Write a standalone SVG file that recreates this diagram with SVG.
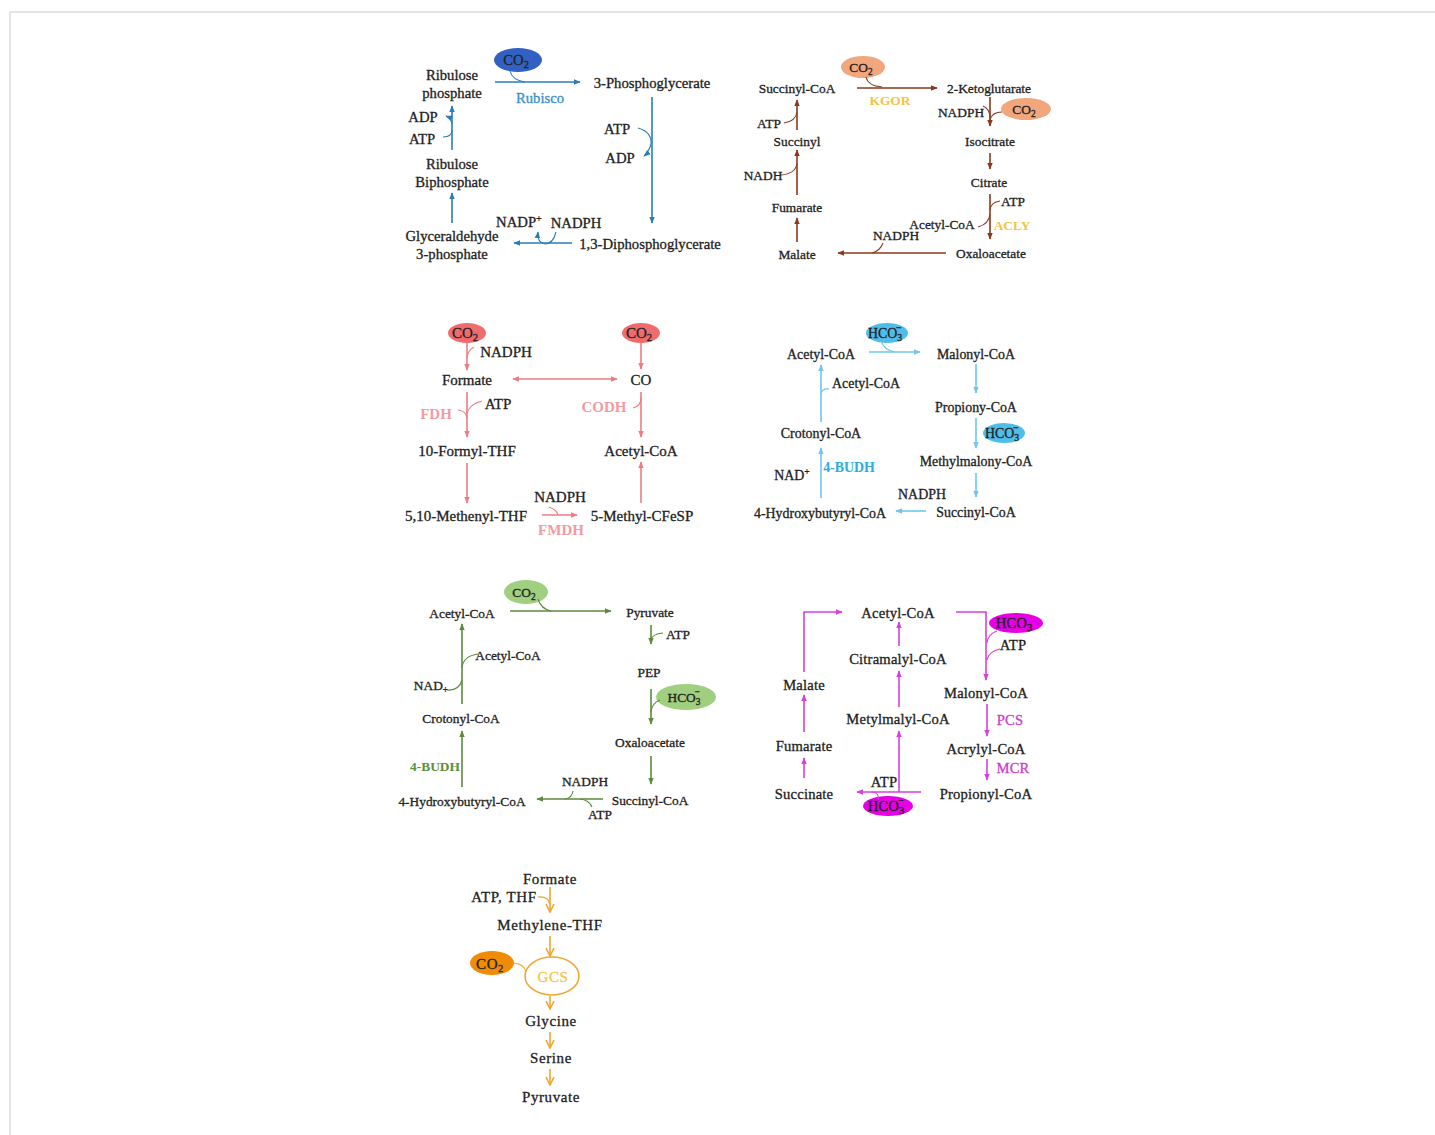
<svg xmlns="http://www.w3.org/2000/svg" width="1435" height="1135" viewBox="0 0 1435 1135">
<defs>
<style>
text{font-family:"Liberation Serif","Times New Roman",serif;fill:#222;stroke:#222;stroke-width:0.3;text-anchor:middle}
.p1{font-size:14.7px}.p2{font-size:13.4px}.p3{font-size:15px}.p4{font-size:13.9px}.p5{font-size:13.4px}.p6{font-size:14.6px;letter-spacing:0.2px}.p7{font-size:15px;letter-spacing:0.6px}
.sub{font-size:0.7em}
.ln{fill:none;stroke-width:1.6}
.thin{fill:none;stroke-width:1.1}
.blue{stroke:#2c7cb8}.brown{stroke:#8a3a1c}.red{stroke:#ec7c84}.cyan{stroke:#6ec6ec}.green{stroke:#5d8a3d}.mag{stroke:#d83fe0}.orange{stroke:#f0a52c}
.enz{font-weight:bold}
</style>
<marker id="mb" viewBox="0 0 10 10" refX="9" refY="5" markerWidth="7" markerHeight="7" markerUnits="userSpaceOnUse" orient="auto-start-reverse"><path d="M0,1L10,5L0,9z" fill="#2c7cb8"/></marker>
<marker id="mbr" viewBox="0 0 10 10" refX="9" refY="5" markerWidth="7" markerHeight="7" markerUnits="userSpaceOnUse" orient="auto-start-reverse"><path d="M0,1L10,5L0,9z" fill="#8a3a1c"/></marker>
<marker id="mr" viewBox="0 0 10 10" refX="9" refY="5" markerWidth="7" markerHeight="7" markerUnits="userSpaceOnUse" orient="auto-start-reverse"><path d="M0,1L10,5L0,9z" fill="#ec7c84"/></marker>
<marker id="mc" viewBox="0 0 10 10" refX="9" refY="5" markerWidth="7" markerHeight="7" markerUnits="userSpaceOnUse" orient="auto-start-reverse"><path d="M0,1L10,5L0,9z" fill="#6ec6ec"/></marker>
<marker id="mg" viewBox="0 0 10 10" refX="9" refY="5" markerWidth="7" markerHeight="7" markerUnits="userSpaceOnUse" orient="auto-start-reverse"><path d="M0,1L10,5L0,9z" fill="#5d8a3d"/></marker>
<marker id="mm" viewBox="0 0 10 10" refX="9" refY="5" markerWidth="7" markerHeight="7" markerUnits="userSpaceOnUse" orient="auto-start-reverse"><path d="M0,1L10,5L0,9z" fill="#d83fe0"/></marker>
<marker id="mo" viewBox="0 0 10 10" refX="9" refY="5" markerWidth="10" markerHeight="10" markerUnits="userSpaceOnUse" orient="auto"><path d="M1,1L9,5L1,9" fill="none" stroke="#f0a52c" stroke-width="1.6"/></marker>
</defs>
<rect width="1435" height="1135" fill="#fff"/>
<path d="M10,1135V12H1435" fill="none" stroke="#dcdcdc" stroke-width="1.5"/>

<!-- Panel 1: Calvin cycle -->
<g id="calvin">
<g id="n-co2-1"><ellipse cx="518" cy="60" rx="24" ry="12" fill="#3261c4"/><text class="p1" x="516" y="65">CO<tspan class="sub" dy="3">2</tspan></text></g>
<g id="n-rup"><text class="p1" x="452" y="79.5">Ribulose</text><text class="p1" x="452" y="97.5">phosphate</text></g>
<g id="n-3pg"><text class="p1" x="652" y="88">3-Phosphoglycerate</text></g>
<g id="n-rubisco"><text class="p1" x="540" y="102.5" style="fill:#3b8fc9;stroke:#3b8fc9">Rubisco</text></g>
<g id="n-atp1"><text class="p1" x="617" y="134">ATP</text></g>
<g id="n-adp1"><text class="p1" x="620" y="162.5">ADP</text></g>
<g id="n-13dpg"><text class="p1" x="650" y="249">1,3-Diphosphoglycerate</text></g>
<g id="n-nadp"><text class="p1" x="519" y="226.5">NADP<tspan class="sub" dy="-5">+</tspan></text></g>
<g id="n-nadph1"><text class="p1" x="576" y="227.5">NADPH</text></g>
<g id="n-g3p"><text class="p1" x="452" y="241">Glyceraldehyde</text><text class="p1" x="452" y="258.5">3-phosphate</text></g>
<g id="n-rubp"><text class="p1" x="452" y="168.5">Ribulose</text><text class="p1" x="452" y="186.5">Biphosphate</text></g>
<g id="n-adp2"><text class="p1" x="423" y="121.5">ADP</text></g>
<g id="n-atp2"><text class="p1" x="422" y="143.5">ATP</text></g>
</g>
<g id="connectors-calvin">
<path class="ln blue" d="M495,82H580" marker-end="url(#mb)"/>
<path class="thin blue" d="M510,71Q512,80 525,82"/>
<path class="ln blue" d="M652,97V223" marker-end="url(#mb)"/>
<path class="thin blue" d="M638,128Q652,132 651,144Q649,152 644,156" marker-end="url(#mb)"/>
<path class="ln blue" d="M572,243H514" marker-end="url(#mb)"/>
<path class="thin blue" d="M556,232Q553,244 545,244Q537,243 538,232" marker-end="url(#mb)"/>
<path class="ln blue" d="M452,223V193" marker-end="url(#mb)"/>
<path class="ln blue" d="M452,150V106" marker-end="url(#mb)"/>
<path class="thin blue" d="M443,137Q452,137 452,130"/>
<path class="thin blue" d="M452,124Q451,118 446,116" marker-end="url(#mb)"/>
</g>

<!-- Panel 2: rTCA -->
<g id="rtca">
<g id="n-co2-2a"><ellipse cx="863" cy="67" rx="22" ry="11" fill="#f2a67c"/><text class="p2" x="861" y="71.5">CO<tspan class="sub" dy="3">2</tspan></text></g>
<g id="n-co2-2b"><ellipse cx="1026" cy="109" rx="25" ry="11" fill="#f2a67c"/><text class="p2" x="1024" y="113.5">CO<tspan class="sub" dy="3">2</tspan></text></g>
<g id="n-succoa2"><text class="p2" x="797" y="92.5">Succinyl-CoA</text></g>
<g id="n-kgor"><text class="p2 enz" x="890" y="104.5" style="fill:#f3c341;stroke:none">KGOR</text></g>
<g id="n-2kg"><text class="p2" x="989" y="92.5">2-Ketoglutarate</text></g>
<g id="n-nadph2a"><text class="p2" x="961" y="116.5">NADPH</text></g>
<g id="n-isocit"><text class="p2" x="990" y="145.5">Isocitrate</text></g>
<g id="n-citrate"><text class="p2" x="989" y="186.5">Citrate</text></g>
<g id="n-atp2a"><text class="p2" x="1013" y="205.5">ATP</text></g>
<g id="n-acoa2"><text class="p2" x="942" y="228.5">Acetyl-CoA</text></g>
<g id="n-acly"><text class="p2 enz" x="1012" y="229.5" style="fill:#f3c341;stroke:none">ACLY</text></g>
<g id="n-oaa2"><text class="p2" x="991" y="257.5">Oxaloacetate</text></g>
<g id="n-nadph2b"><text class="p2" x="896" y="239.5">NADPH</text></g>
<g id="n-malate2"><text class="p2" x="797" y="258.5">Malate</text></g>
<g id="n-fum2"><text class="p2" x="797" y="211.5">Fumarate</text></g>
<g id="n-nadh2"><text class="p2" x="763" y="179.5">NADH</text></g>
<g id="n-succ2"><text class="p2" x="797" y="145.5">Succinyl</text></g>
<g id="n-atp2b"><text class="p2" x="769" y="127.5">ATP</text></g>
</g>
<g id="connectors-rtca">
<path class="ln brown" d="M857,88H937" marker-end="url(#mbr)"/>
<path class="thin brown" d="M866,77Q868,86 882,87"/>
<path class="ln brown" d="M990,97V126" marker-end="url(#mbr)"/>
<path class="thin brown" d="M983,106Q990,109 990,118"/>
<path class="thin brown" d="M1002,112Q992,112 990,120"/>
<path class="ln brown" d="M990,153V169" marker-end="url(#mbr)"/>
<path class="ln brown" d="M990,194V239" marker-end="url(#mbr)"/>
<path class="thin brown" d="M1000,201Q991,202 990,210"/>
<path class="thin brown" d="M990,214Q989,224 978,227"/>
<path class="ln brown" d="M946,253H838" marker-end="url(#mbr)"/>
<path class="thin brown" d="M883,243Q880,251 872,253"/>
<path class="ln brown" d="M797,242V218" marker-end="url(#mbr)"/>
<path class="ln brown" d="M797,195V150" marker-end="url(#mbr)"/>
<path class="thin brown" d="M781,175Q795,174 797,164"/>
<path class="ln brown" d="M797,130V100" marker-end="url(#mbr)"/>
<path class="thin brown" d="M784,123Q796,121 797,112"/>
</g>

<!-- Panel 3: Wood-Ljungdahl -->
<g id="wl">
<g id="n-co2-3a"><ellipse cx="467" cy="333" rx="19" ry="10" fill="#f06b6d"/><text class="p3" x="465" y="338">CO<tspan class="sub" dy="3">2</tspan></text></g>
<g id="n-co2-3b"><ellipse cx="641" cy="333" rx="19" ry="10" fill="#f06b6d"/><text class="p3" x="639" y="338">CO<tspan class="sub" dy="3">2</tspan></text></g>
<g id="n-nadph3a"><text class="p3" x="506" y="357">NADPH</text></g>
<g id="n-formate3"><text class="p3" x="467" y="385">Formate</text></g>
<g id="n-co3"><text class="p3" x="641" y="385">CO</text></g>
<g id="n-atp3"><text class="p3" x="498" y="409">ATP</text></g>
<g id="n-fdh"><text class="p3 enz" x="436" y="419" style="fill:#f29aa2;stroke:none">FDH</text></g>
<g id="n-codh"><text class="p3 enz" x="604" y="412" style="fill:#f29aa2;stroke:none">CODH</text></g>
<g id="n-10fthf"><text class="p3" x="467" y="456">10-Formyl-THF</text></g>
<g id="n-acoa3"><text class="p3" x="641" y="456">Acetyl-CoA</text></g>
<g id="n-methenyl"><text class="p3" x="466" y="521">5,10-Methenyl-THF</text></g>
<g id="n-nadph3b"><text class="p3" x="560" y="502">NADPH</text></g>
<g id="n-fmdh"><text class="p3 enz" x="561" y="535" style="fill:#f29aa2;stroke:none">FMDH</text></g>
<g id="n-cfesp"><text class="p3" x="642" y="521">5-Methyl-CFeSP</text></g>
</g>
<g id="connectors-wl">
<path class="ln red" d="M467,343V370" marker-end="url(#mr)"/>
<path class="thin red" d="M474,347Q468,350 467,358"/>
<path class="ln red" d="M641,343V369" marker-end="url(#mr)"/>
<path class="ln red" d="M513,379H617" marker-start="url(#mr)" marker-end="url(#mr)"/>
<path class="ln red" d="M467,392V437" marker-end="url(#mr)"/>
<path class="thin red" d="M482,401Q469,404 467,414"/>
<path class="thin red" d="M458,410Q466,411 467,418"/>
<path class="ln red" d="M467,463V503" marker-end="url(#mr)"/>
<path class="ln red" d="M542,515H577" marker-end="url(#mr)"/>
<path class="thin red" d="M549,507Q557,510 558,515"/>
<path class="ln red" d="M641,503V462" marker-end="url(#mr)"/>
<path class="ln red" d="M641,392V437" marker-end="url(#mr)"/>
<path class="thin red" d="M633,408Q641,406 641,398"/>
</g>

<!-- Panel 4: 3HP/4HB -->
<g id="hp4hb">
<g id="n-hco3-4a"><ellipse cx="887" cy="333" rx="21" ry="10" fill="#4fbdea"/><text class="p4" x="885" y="338">HCO<tspan class="sub" dy="3">3</tspan><tspan class="sub" dx="-6" dy="-10">−</tspan></text></g>
<g id="n-hco3-4b"><ellipse cx="1004" cy="433" rx="21" ry="10" fill="#4fbdea"/><text class="p4" x="1002" y="438">HCO<tspan class="sub" dy="3">3</tspan><tspan class="sub" dx="-6" dy="-10">−</tspan></text></g>
<g id="n-acoa4a"><text class="p4" x="821" y="358.5">Acetyl-CoA</text></g>
<g id="n-malcoa4"><text class="p4" x="976" y="358.5">Malonyl-CoA</text></g>
<g id="n-propcoa4"><text class="p4" x="976" y="411.5">Propiony-CoA</text></g>
<g id="n-mmcoa4"><text class="p4" x="976" y="465.5">Methylmalony-CoA</text></g>
<g id="n-nadph4"><text class="p4" x="922" y="498.5">NADPH</text></g>
<g id="n-succoa4"><text class="p4" x="976" y="516.5">Succinyl-CoA</text></g>
<g id="n-4hb4"><text class="p4" x="820" y="517.5">4-Hydroxybutyryl-CoA</text></g>
<g id="n-nad4"><text class="p4" x="792" y="479.5">NAD<tspan class="sub" dy="-5">+</tspan></text></g>
<g id="n-4budh4"><text class="p4 enz" x="849" y="471.5" style="fill:#28aee2;stroke:none">4-BUDH</text></g>
<g id="n-crot4"><text class="p4" x="821" y="437.5">Crotonyl-CoA</text></g>
<g id="n-acoa4b"><text class="p4" x="866" y="387.5">Acetyl-CoA</text></g>
</g>
<g id="connectors-hp4hb">
<path class="ln cyan" d="M869,352H920" marker-end="url(#mc)"/>
<path class="thin cyan" d="M881,341Q884,350 895,352"/>
<path class="ln cyan" d="M976,364V393" marker-end="url(#mc)"/>
<path class="ln cyan" d="M976,418V448" marker-end="url(#mc)"/>
<path class="ln cyan" d="M976,473V497" marker-end="url(#mc)"/>
<path class="ln cyan" d="M926,511H896" marker-end="url(#mc)"/>
<path class="ln cyan" d="M821,498V448" marker-end="url(#mc)"/>
<path class="ln cyan" d="M821,422V365" marker-end="url(#mc)"/>
<path class="thin cyan" d="M829,389Q823,388 821,393"/>
</g>

<!-- Panel 5: DC/4HB -->
<g id="dc4hb">
<g id="n-co2-5"><ellipse cx="526" cy="592" rx="22" ry="12" fill="#a0cf80"/><text class="p5" x="524" y="596.5">CO<tspan class="sub" dy="3">2</tspan></text></g>
<g id="n-hco3-5"><ellipse cx="686" cy="697" rx="30" ry="13" fill="#a0cf80"/><text class="p5" x="684" y="701.5">HCO<tspan class="sub" dy="3">3</tspan><tspan class="sub" dx="-6" dy="-10">−</tspan></text></g>
<g id="n-acoa5a"><text class="p5" x="462" y="617.5">Acetyl-CoA</text></g>
<g id="n-pyr5"><text class="p5" x="650" y="616.5">Pyruvate</text></g>
<g id="n-atp5a"><text class="p5" x="678" y="638.5">ATP</text></g>
<g id="n-pep5"><text class="p5" x="649" y="676.5">PEP</text></g>
<g id="n-oaa5"><text class="p5" x="650" y="746.5">Oxaloacetate</text></g>
<g id="n-succoa5"><text class="p5" x="650" y="804.5">Succinyl-CoA</text></g>
<g id="n-nadph5"><text class="p5" x="585" y="785.5">NADPH</text></g>
<g id="n-atp5b"><text class="p5" x="600" y="818.5">ATP</text></g>
<g id="n-4hb5"><text class="p5" x="462" y="805.5">4-Hydroxybutyryl-CoA</text></g>
<g id="n-4budh5"><text class="p5 enz" x="435" y="770.5" style="fill:#5c8f36;stroke:none">4-BUDH</text></g>
<g id="n-crot5"><text class="p5" x="461" y="722.5">Crotonyl-CoA</text></g>
<g id="n-acoa5b"><text class="p5" x="508" y="659.5">Acetyl-CoA</text></g>
<g id="n-nad5"><text class="p5" x="431" y="689.5">NAD<tspan class="sub" dy="3">+</tspan></text></g>
</g>
<g id="connectors-dc4hb">
<path class="ln green" d="M510,611H611" marker-end="url(#mg)"/>
<path class="thin green" d="M538,599Q541,609 551,611"/>
<path class="ln green" d="M651,625V644" marker-end="url(#mg)"/>
<path class="thin green" d="M663,633Q652,634 651,640"/>
<path class="ln green" d="M651,689V724" marker-end="url(#mg)"/>
<path class="thin green" d="M660,700Q652,703 651,712"/>
<path class="ln green" d="M651,756V784" marker-end="url(#mg)"/>
<path class="ln green" d="M603,799H537" marker-end="url(#mg)"/>
<path class="thin green" d="M573,791Q572,798 565,799"/>
<path class="thin green" d="M592,807Q589,800 580,799"/>
<path class="ln green" d="M462,787V731" marker-end="url(#mg)"/>
<path class="ln green" d="M462,704V624" marker-end="url(#mg)"/>
<path class="thin green" d="M478,654Q463,656 462,668"/>
<path class="thin green" d="M447,690Q459,691 462,680"/>
</g>

<!-- Panel 6: 3HP bicycle -->
<g id="hp">
<g id="n-hco3-6a"><ellipse cx="1016" cy="623" rx="27" ry="10" fill="#e600e6"/><text class="p6" x="1014" y="628">HCO<tspan class="sub" dy="3">3</tspan></text></g>
<g id="n-hco3-6b"><ellipse cx="888" cy="806" rx="25" ry="10" fill="#e600e6"/><text class="p6" x="886" y="811">HCO<tspan class="sub" dy="3">3</tspan><tspan class="sub" dx="-6" dy="-10">−</tspan></text></g>
<g id="n-acoa6"><text class="p6" x="898" y="618">Acetyl-CoA</text></g>
<g id="n-malate6"><text class="p6" x="804" y="690">Malate</text></g>
<g id="n-fum6"><text class="p6" x="804" y="751">Fumarate</text></g>
<g id="n-succ6"><text class="p6" x="804" y="799">Succinate</text></g>
<g id="n-citra6"><text class="p6" x="898" y="664">Citramalyl-CoA</text></g>
<g id="n-mmal6"><text class="p6" x="898" y="724">Metylmalyl-CoA</text></g>
<g id="n-atp6a"><text class="p6" x="1013" y="650">ATP</text></g>
<g id="n-malcoa6"><text class="p6" x="986" y="698">Malonyl-CoA</text></g>
<g id="n-pcs"><text class="p6" x="1010" y="725" style="fill:#c93ecb;stroke:#c93ecb">PCS</text></g>
<g id="n-acr6"><text class="p6" x="986" y="754">Acrylyl-CoA</text></g>
<g id="n-mcr"><text class="p6" x="1013" y="773" style="fill:#c93ecb;stroke:#c93ecb">MCR</text></g>
<g id="n-propcoa6"><text class="p6" x="986" y="799">Propionyl-CoA</text></g>
<g id="n-atp6b"><text class="p6" x="884" y="787">ATP</text></g>
</g>
<g id="connectors-hp">
<path class="ln mag" d="M804,672V612H842" marker-end="url(#mm)"/>
<path class="ln mag" d="M804,732V695" marker-end="url(#mm)"/>
<path class="ln mag" d="M804,778V758" marker-end="url(#mm)"/>
<path class="ln mag" d="M956,612H986V680" marker-end="url(#mm)"/>
<path class="thin mag" d="M997,631Q988,634 987,643"/>
<path class="thin mag" d="M1000,649Q989,651 987,660"/>
<path class="ln mag" d="M987,704V736" marker-end="url(#mm)"/>
<path class="ln mag" d="M987,759V780" marker-end="url(#mm)"/>
<path class="ln mag" d="M921,792H857" marker-end="url(#mm)"/>
<path class="ln mag" d="M899,792V731" marker-end="url(#mm)"/>
<path class="thin mag" d="M878,800Q880,793 872,792"/>
<path class="ln mag" d="M899,707V671" marker-end="url(#mm)"/>
<path class="ln mag" d="M899,646V622" marker-end="url(#mm)"/>
</g>

<!-- Panel 7: reductive glycine pathway -->
<g id="rgly">
<g id="n-formate7"><text class="p7" x="550" y="883.5">Formate</text></g>
<g id="n-atpthf"><text class="p7" x="504" y="901.5">ATP, THF</text></g>
<g id="n-methylene"><text class="p7" x="550" y="929.5">Methylene-THF</text></g>
<g id="n-co2-7"><ellipse cx="492" cy="963" rx="22" ry="12" fill="#ef8b04"/><text class="p7" x="490" y="968.5">CO<tspan class="sub" dy="3">2</tspan></text></g>
<g id="n-gcs"><ellipse cx="552" cy="976" rx="27" ry="19" fill="none" stroke="#f0a52c" stroke-width="1.5"/><text class="p7" x="553" y="981.5" style="fill:#f5c542;stroke:#f5c542">GCS</text></g>
<g id="n-gly"><text class="p7" x="551" y="1025.5">Glycine</text></g>
<g id="n-ser"><text class="p7" x="551" y="1062.5">Serine</text></g>
<g id="n-pyr7"><text class="p7" x="551" y="1101.5">Pyruvate</text></g>
</g>
<g id="connectors-rgly">
<path class="ln orange" d="M550,887V912" marker-end="url(#mo)"/>
<path class="thin orange" d="M538,897Q548,896 550,904"/>
<path class="ln orange" d="M550,936V956" marker-end="url(#mo)"/>
<path class="thin orange" d="M514,963Q524,964 526,972"/>
<path class="ln orange" d="M550,996V1009" marker-end="url(#mo)"/>
<path class="ln orange" d="M550,1032V1048" marker-end="url(#mo)"/>
<path class="ln orange" d="M550,1069V1085" marker-end="url(#mo)"/>
</g>
</svg>
